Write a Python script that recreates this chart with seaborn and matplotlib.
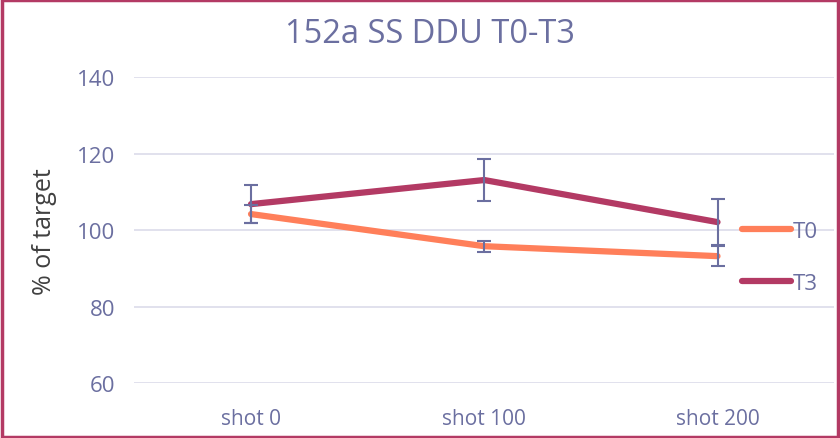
import pandas as pd
import matplotlib
matplotlib.use("Agg")
import matplotlib.pyplot as plt
import seaborn as sns

# data
shots = ["shot 0", "shot 100", "shot 200"]
t0_values = [104.2, 95.8, 93.2]
t0_err = [2.3, 1.4, 2.7]
t3_values = [106.8, 113.1, 102.1]
t3_err = [5.0, 5.4, 6.0]

df = pd.DataFrame({
    "shot": shots * 2,
    "value": t0_values + t3_values,
    "err": t0_err + t3_err,
    "series": ["T0"] * 3 + ["T3"] * 3,
})

sns.set_theme(style="white")
plt.rcParams["font.family"] = ["Open Sans", "DejaVu Sans"]

text_col = "#6B6FA0"
colors = {"T0": "#FF7F5A", "T3": "#B33A64"}

fig, ax = plt.subplots(figsize=(8.4, 4.39), dpi=100)
fig.subplots_adjust(left=0.16, right=0.993, top=0.822, bottom=0.125)

sns.lineplot(data=df, x="shot", y="value", hue="series", palette=colors,
             linewidth=4.5, ax=ax, sort=False)
for name, sub in df.groupby("series"):
    ax.errorbar(sub["shot"], sub["value"], yerr=sub["err"], fmt="none",
                ecolor=text_col, elinewidth=1.5, capsize=5, capthick=1.5, zorder=5)

ax.set_xlim(-0.5, 2.5)
ax.set_ylim(60, 140)
ax.set_yticks([60, 80, 100, 120, 140])
ax.yaxis.grid(True, color="#DCDCEA", linewidth=1.2)
ax.set_axisbelow(True)
for s in ax.spines.values():
    s.set_visible(False)
ax.tick_params(axis="y", length=0, labelsize=16, colors=text_col, pad=14)
ax.tick_params(axis="x", length=0, labelsize=15, colors=text_col, pad=18)
ax.set_xlabel("")
ax.set_ylabel("% of target", fontsize=18, color="#404040", labelpad=14)

fig.suptitle("152a SS DDU T0-T3", x=0.512, y=0.96, fontsize=23.5, color=text_col)

leg = ax.legend(loc="center left", bbox_to_anchor=(0.868, 0.41), frameon=False,
                fontsize=16, handlelength=2.2, handletextpad=0.1, labelspacing=1.4,
                borderaxespad=0, borderpad=0)
for t in leg.get_texts():
    t.set_color(text_col)
for line in leg.get_lines():
    line.set_linewidth(4.5)

fig.patches.append(plt.Rectangle((0.002, 0.003), 0.996, 0.994, transform=fig.transFigure,
                                 fill=False, edgecolor="#B33A64", linewidth=2.5))

plt.savefig("out.png", dpi=100)
plt.close()
